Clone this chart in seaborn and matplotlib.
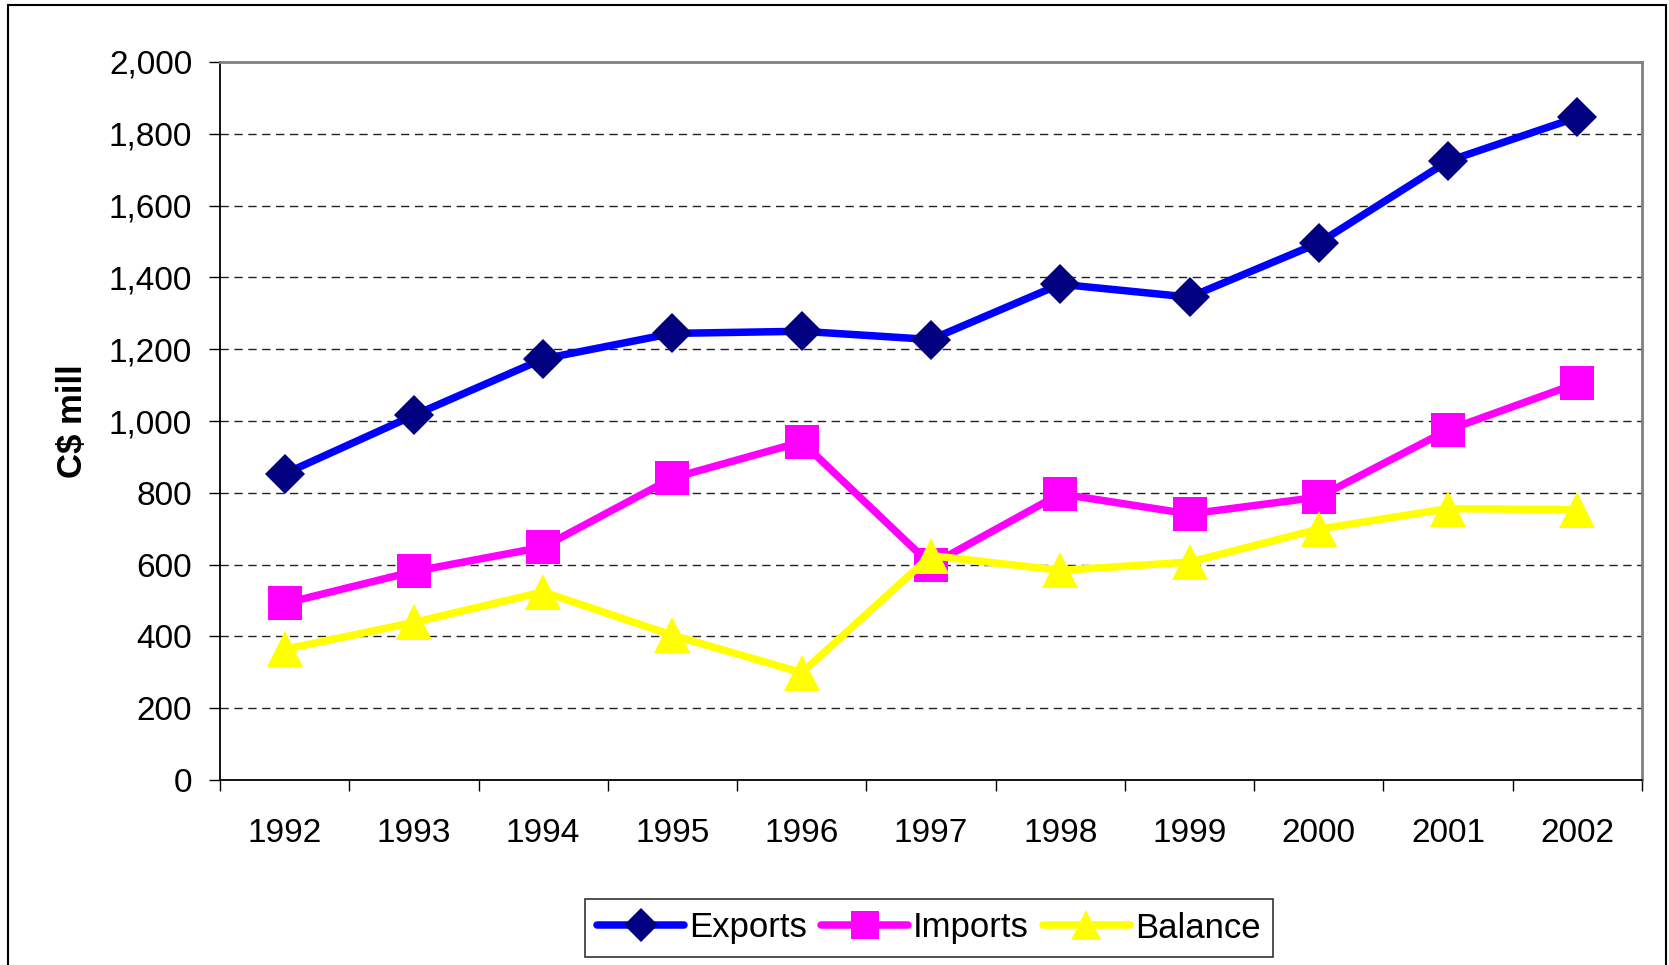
import matplotlib
matplotlib.use("Agg")
import matplotlib.pyplot as plt
import seaborn as sns
import pandas as pd
from matplotlib.ticker import StrMethodFormatter, FixedLocator, NullFormatter
from matplotlib.patches import Rectangle

years = ["1992", "1993", "1994", "1995", "1996", "1997", "1998", "1999", "2000", "2001", "2002"]
exports = [853, 1016, 1173, 1244, 1250, 1227, 1381, 1345, 1496, 1724, 1846]
imports = [492, 581, 649, 841, 942, 599, 797, 741, 788, 975, 1105]
balance = [364, 439, 524, 403, 299, 625, 584, 607, 699, 756, 753]
y_ticks = [0, 200, 400, 600, 800, 1000, 1200, 1400, 1600, 1800, 2000]

sns.set_theme(style="white")
plt.rcParams["font.family"] = ["Liberation Sans", "DejaVu Sans"]
plt.rcParams["text.color"] = "black"
plt.rcParams["axes.labelcolor"] = "black"
plt.rcParams["xtick.color"] = "black"
plt.rcParams["ytick.color"] = "black"

df = pd.DataFrame({"year": years, "Exports": exports, "Imports": imports, "Balance": balance})

fig = plt.figure(figsize=(16.69, 9.65), dpi=100)
ax = fig.add_axes([220 / 1669, 1 - 780 / 965, (1642 - 220) / 1669, (780 - 62) / 965])

styles = [
    ("Exports", "#0000FF", "D", "#000080", 20),
    ("Imports", "#FF00FF", "s", "#FF00FF", 24),
    ("Balance", "#FFFF00", "^", "#FFFF00", 26),
]
for name, lc, mk, mc, ms in styles:
    sns.lineplot(data=df, x="year", y=name, ax=ax, color=lc, linewidth=5.4,
                 marker=mk, markersize=ms, markerfacecolor=mc, markeredgecolor=mc,
                 markeredgewidth=0, label=name, legend=False, zorder=3)

ax.set_xlim(-0.5, len(years) - 0.5)
ax.set_ylim(0, 2000)
ax.set_yticks(y_ticks)
ax.yaxis.set_major_formatter(StrMethodFormatter("{x:,.0f}"))
ax.set_xticks(range(len(years)))
ax.set_xticklabels(years)
ax.xaxis.set_minor_locator(FixedLocator([i - 0.5 for i in range(len(years) + 1)]))
ax.xaxis.set_minor_formatter(NullFormatter())

ax.tick_params(axis="x", which="major", length=0, pad=27, labelsize=24, labelcolor="black")
ax.tick_params(axis="x", which="minor", length=8, width=1, direction="out", color="black", bottom=True)
ax.tick_params(axis="y", which="major", length=8, width=1, direction="out", pad=12, labelsize=24,
               color="black", labelcolor="black", left=True)

ax.set_xlabel("")
ax.set_ylabel("C\\$ mill", fontsize=25, fontweight="bold", labelpad=14, color="black")

for y in y_ticks[1:-1]:
    ax.axhline(y, color="#222222", linewidth=1, linestyle=(0, (6, 4)), zorder=1)

for side in ["left", "bottom"]:
    ax.spines[side].set_color("black")
    ax.spines[side].set_linewidth(1.3)
for side in ["top", "right"]:
    ax.spines[side].set_color("#808080")
    ax.spines[side].set_linewidth(2)
    ax.spines[side].set_visible(True)

leg = ax.legend(loc="center", bbox_to_anchor=(929 / 1669, 1 - 928 / 965),
                bbox_transform=fig.transFigure, ncol=3, fontsize=25, frameon=True,
                fancybox=False, edgecolor="black", handlelength=2.5, handletextpad=0.15,
                columnspacing=0.4, borderpad=0.35, markerscale=0.85)
leg.get_frame().set_linewidth(1.2)
for t in leg.get_texts():
    t.set_color("black")

fig.patches.append(Rectangle((8 / 1669, -0.05), (1666 - 8) / 1669, 1.05 - 5 / 965,
                             transform=fig.transFigure, fill=False, edgecolor="black",
                             linewidth=1.5, zorder=0))

fig.savefig("out.png", dpi=100, facecolor="white")
